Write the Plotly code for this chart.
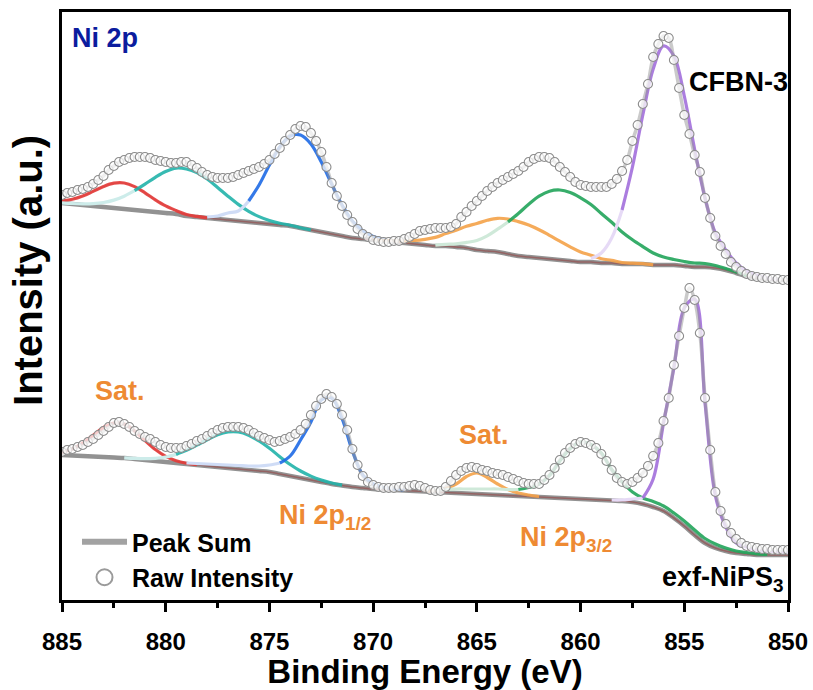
import numpy as np
import plotly.graph_objects as go

FONT = "Liberation Sans, Arial, sans-serif"

# ---------------- data (intensity in arbitrary units) ----------------
# energy grids of the scan (0.25 eV) and of the fitted curves (0.5 eV)
BE_SCAN = np.linspace(885, 850, 141)
BE_FIT = np.linspace(885, 850, 71)
TICKS = [885, 880, 875, 870, 865, 860, 855, 850]

RAW_CFBN = [405, 407, 408, 410, 411, 413, 416, 420, 424, 430,
            434, 438, 440, 442, 443, 443, 443, 442, 440, 439,
            438, 437, 437, 438, 438, 435, 432, 428, 425, 423,
            422, 422, 422, 423, 425, 427, 429, 431, 433, 436,
            440, 446, 452, 459, 465, 471, 474, 473, 467, 459,
            448, 433, 417, 404, 394, 385, 378, 371, 366, 363,
            360, 359, 358, 358, 359, 359, 361, 363, 366, 369,
            370, 371, 372, 372, 372, 373, 376, 383, 388, 394,
            399, 404, 409, 413, 417, 420, 423, 426, 429, 433,
            438, 441, 443, 443, 442, 438, 433, 428, 423, 418,
            415, 414, 413, 413, 413, 413, 416, 421, 429, 440,
            459, 475, 496, 516, 543, 556, 564, 562, 540, 512,
            485, 466, 445, 428, 402, 382, 364, 354, 346, 338,
            333, 329, 326, 324, 323, 322, 322, 321, 321, 320,
            320]

RAW_EXF = [148, 150, 151, 153, 155, 158, 161, 165, 169, 173,
           177, 178, 176, 173, 169, 166, 163, 161, 158, 155,
           153, 152, 152, 152, 154, 156, 159, 161, 164, 167,
           170, 172, 173, 173, 173, 172, 170, 167, 164, 162,
           160, 158, 159, 161, 163, 166, 170, 176, 185, 194,
           201, 206, 203, 196, 185, 170, 151, 135, 124, 118,
           115, 113, 112, 112, 112, 113, 113, 114, 115, 114,
           112, 110, 109, 109, 113, 119, 125, 129, 132, 133,
           132, 130, 129, 127, 126, 125, 123, 121, 119, 117,
           116, 116, 116, 120, 125, 132, 140, 147, 152, 156,
           158, 157, 155, 152, 146, 139, 130, 122, 118, 116,
           118, 122, 127, 134, 144, 157, 179, 202, 235, 264,
           292, 312, 300, 267, 202, 150, 108, 89, 76, 67,
           61, 57, 54, 53, 52, 51, 51, 50, 50, 50,
           50]

BG_CFBN = [397, 396, 395, 394, 393, 392, 391, 390, 389, 388,
           387, 386, 384, 383, 382, 381, 380, 379, 378, 377,
           376, 375, 374, 372, 370, 368, 366, 364, 362, 361,
           360, 359, 358, 357, 356, 355, 354, 354, 353, 352,
           350, 349, 348, 346, 344, 343, 342, 341, 340, 339,
           338, 338, 337, 337, 336, 336, 336, 335, 335, 335,
           334, 333, 333, 332, 330, 327, 324, 322, 321, 320,
           320]

BG_EXF = [145, 144.5, 144, 143.5, 143, 142.5, 142, 141, 140, 139,
          138, 137, 136, 135, 134, 133, 132, 131, 130, 129,
          128, 126, 124, 122, 120, 118, 116, 114.5, 113, 112,
          111, 110.5, 110, 109.5, 109, 108.5, 108, 107.5, 107, 106.5,
          106, 105.5, 105, 104.5, 104, 103.5, 103, 102.5, 102, 101.5,
          101, 100.5, 100, 99.5, 99, 98, 96, 93, 89, 82,
          74, 65, 57, 52, 49, 47, 46, 45, 45, 45,
          45]

# fitted component heights above the background (0.5 eV grid)
CFBN_RED = [2.2, 4.7, 8.9, 14.6, 20.5, 24.8, 26, 23.4, 18.2, 12.2, 7.1, 3.5, 1.5, 0.6, 0.2] + [0] * 56
CFBN_TEAL = [0.2, 0.5, 1.2, 2.4, 4.5, 7.9, 12.8, 19.3, 26.9, 34.7, 41.5, 45.9, 47, 44.5, 39, 31.6,
             23.8, 16.6, 10.7, 6.4, 3.5, 1.8, 0.8, 0.3, 0.1] + [0] * 46
CFBN_BLUE = [0] * 14 + [1, 3, 7, 10, 21, 38, 59, 78, 90, 93, 86, 70, 50, 31, 17, 8, 3.5, 1.5, 0.5] + [0] * 38
CFBN_ORANGE = [0] * 30 + [0.3, 0.6, 1.2, 2.1, 3.5, 5.7, 8.6, 12.4, 16.8, 21.7, 26.5, 30.7, 33.7, 35,
                          34.4, 32, 28.3, 23.7, 18.8, 14.1, 10, 6.8, 4.3, 2.6, 1.5, 0.8, 0.4, 0.2] + [0] * 13
CFBN_GREEN = [0] * 36 + [0.8, 1.6, 3.1, 5.6, 9.5, 15.1, 22.8, 32, 42.5, 52.8, 61.8, 67.8, 70, 68.5,
                         64.2, 57.5, 49.5, 40.7, 32, 24.2, 17.4, 12, 8, 5.5, 4.5, 4, 3.5, 2.5, 1.5,
                         1, 0.5] + [0] * 4
CFBN_PURPLE = [0] * 51 + [3.5, 10, 25, 54, 97, 149, 196, 219, 209, 170, 117.5, 69, 35, 20, 10, 5,
                          2.5, 1, 0.5, 0]

EXF_RED = [2.8, 6.5, 12.8, 21.2, 29.5, 34.5, 33.9, 28, 19.5, 11.4, 5.6, 2.3, 0.8, 0.3] + [0] * 57
EXF_TEAL = [0] * 6 + [0.2, 0.6, 1.3, 2.7, 5, 8.6, 13.6, 19.8, 26.3, 32.2, 36, 37, 34.8, 30, 23.8,
                      17.3, 11.5, 7, 3.9, 2, 1, 0.4] + [0] * 43
EXF_BLUE = [0] * 12 + [1, 1.5, 2, 2.5, 3, 3.5, 4, 5, 7, 11, 20, 38, 58, 82, 86, 67, 36, 13, 5, 2, 1,
                       0.3] + [0] * 37
EXF_ORANGE = [0] * 35 + [0.5, 1.5, 4, 9, 17, 21, 17, 11, 6, 3, 1.5, 0.5] + [0] * 24
EXF_GREEN = [0] * 36 + [2, 3, 4, 4.5, 5, 5.5, 6, 6, 6.5, 9, 13, 22, 37, 50, 57, 55, 47, 31, 19, 10,
                        6, 5.5, 5, 5, 5, 5, 4.5, 4, 3, 2, 1.5, 1, 0.5] + [0] * 2
EXF_PURPLE = [0] * 53 + [0.5, 1, 3, 6, 28, 88, 150, 218, 236, 140, 52, 24, 10, 7, 5, 4, 3.5, 3]

# ---------------- styles ----------------
COLORS = {
    "red": ("#e53d3b", "#e53d3b"),
    "teal": ("#22b3aa", "#cdecea"),
    "blue": ("#1f6be6", "#cfdcf6"),
    "orange": ("#f5a249", "#f5a249"),
    "green": ("#22a55a", "#cfe9d9"),
    "purple": ("#a36fdc", "#e6daf6"),
}

SPECTRA = [
    dict(raw=RAW_CFBN, bg=BG_CFBN,
         comps=[("red", CFBN_RED, 885), ("teal", CFBN_TEAL, 881.5), ("blue", CFBN_BLUE, 876),
                ("orange", CFBN_ORANGE, 885), ("green", CFBN_GREEN, 863.5),
                ("purple", CFBN_PURPLE, 858)]),
    dict(raw=RAW_EXF, bg=BG_EXF,
         comps=[("red", EXF_RED, 885), ("teal", EXF_TEAL, 879.5), ("blue", EXF_BLUE, 874.5),
                ("orange", EXF_ORANGE, 885), ("green", EXF_GREEN, 863),
                ("purple", EXF_PURPLE, 857)]),
]

fig = go.Figure()

# legend entries
fig.add_trace(go.Scatter(x=[None], y=[None], mode="lines", name="Peak Sum",
                         line=dict(color="#a2a2a2", width=6)))
fig.add_trace(go.Scatter(x=[None], y=[None], mode="markers", name="Raw Intensity",
                         marker=dict(size=16, color="white", line=dict(color="#9a9a9a", width=2))))

for sp in SPECTRA:
    bg = np.array(sp["bg"], dtype=float)
    # background
    fig.add_trace(go.Scatter(x=BE_FIT, y=bg, mode="lines", showlegend=False, hoverinfo="skip",
                             line=dict(color="#929292", width=4.5, shape="spline")))
    # thin tail of the first satellite running along the background
    red_h = np.array(sp["comps"][0][1], dtype=float)
    fig.add_trace(go.Scatter(x=BE_FIT, y=bg + red_h, mode="lines", showlegend=False, hoverinfo="skip",
                             line=dict(color="rgba(150,60,60,0.55)", width=1.6, shape="spline")))
    for name, h, bright_from in sp["comps"]:
        h = np.array(h, dtype=float)
        idx = np.nonzero(h > 0)[0]
        i0, i1 = idx[0], idx[-1] + 1
        e = BE_FIT[i0:i1]
        y = (bg + h)[i0:i1]
        strong, pale = COLORS[name]
        pale_mask = e >= bright_from - 1e-9
        if pale_mask.sum() > 1 and pale != strong:
            fig.add_trace(go.Scatter(x=e[pale_mask], y=y[pale_mask], mode="lines", showlegend=False,
                                     hoverinfo="skip",
                                     line=dict(color=pale, width=3.2, shape="spline")))
        m = e <= bright_from + 1e-9
        fig.add_trace(go.Scatter(x=e[m], y=y[m], mode="lines", showlegend=False, hoverinfo="skip",
                                 opacity=0.9, line=dict(color=strong, width=3.2, shape="spline")))

for sp in SPECTRA:
    # envelope (peak sum) and raw data
    fig.add_trace(go.Scatter(x=BE_SCAN, y=sp["raw"], mode="lines", showlegend=False, hoverinfo="skip",
                             line=dict(color="rgba(150,150,150,0.5)", width=3.5, shape="spline")))
    fig.add_trace(go.Scatter(x=BE_SCAN, y=sp["raw"], mode="markers", showlegend=False,
                             marker=dict(size=9, color="rgba(255,255,255,0.72)",
                                         line=dict(color="#8c8c8c", width=1.1))))

ORANGE_TXT = "#ee8a33"


def px_x(px):
    return (px - 62) / 725.5


def px_y(py):
    return (600 - py) / 588


labels = [
    ("Ni 2p", 70, 38, "#0b1c9e"),
    ("CFBN-3", 687, 82, "black"),
    ("exf-NiPS<sub>3</sub>", 660, 579, "black"),
    ("Sat.", 93, 391, ORANGE_TXT),
    ("Sat.", 457, 435, ORANGE_TXT),
    ("Ni 2p<sub>1/2</sub>", 277, 517, ORANGE_TXT),
    ("Ni 2p<sub>3/2</sub>", 518, 539, ORANGE_TXT),
]
for text, x, y, col in labels:
    fig.add_annotation(text=text, x=px_x(x), y=px_y(y), xref="paper", yref="paper",
                       xanchor="left", yanchor="middle", showarrow=False,
                       font=dict(family=FONT, size=27, color=col, weight="bold"))

# y-axis title
fig.add_annotation(text="Intensity (a.u.)", x=px_x(28), y=px_y(270), xref="paper", yref="paper",
                   xanchor="center", yanchor="middle", textangle=-90, showarrow=False,
                   font=dict(family=FONT, size=40, color="black", weight="bold"))

fig.update_layout(
    width=813, height=690,
    margin=dict(l=62, r=25, t=12, b=90),
    plot_bgcolor="white", paper_bgcolor="white",
    showlegend=True,
    legend=dict(x=px_x(77), y=0.0, xanchor="left", yanchor="bottom",
                bgcolor="rgba(0,0,0,0)", itemwidth=45, tracegroupgap=0,
                font=dict(family=FONT, size=25, color="black", weight="bold")),
    xaxis=dict(range=[885, 850], tickvals=TICKS,
               ticks="outside", ticklen=9, tickwidth=2.5, tickcolor="black",
               ticklabelstandoff=9,
               showline=True, linewidth=3, linecolor="black", mirror=True,
               showgrid=False, zeroline=False, automargin=False,
               tickfont=dict(family=FONT, size=24, color="black", weight="bold"),
               minor=dict(dtick=2.5, ticks="outside", ticklen=5, tickwidth=2.5,
                          tickcolor="black", showgrid=False),
               title=dict(text="Binding Energy (eV)", standoff=6,
                          font=dict(family=FONT, size=33, color="black", weight="bold"))),
    yaxis=dict(range=[0, 588], showticklabels=False, ticks="",
               showline=True, linewidth=3, linecolor="black", mirror=True,
               showgrid=False, zeroline=False, automargin=False),
)

fig.write_html("out.html")
